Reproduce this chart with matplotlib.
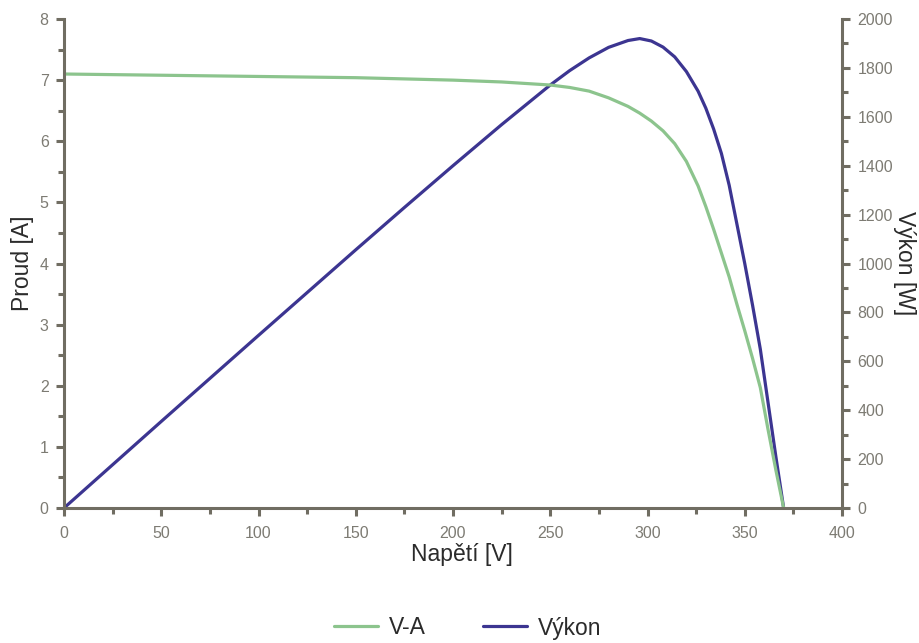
import matplotlib
matplotlib.use("Agg")
import matplotlib.pyplot as plt
from matplotlib.ticker import MultipleLocator

plt.rcParams['font.family'] = ['Liberation Sans', 'DejaVu Sans']

voltage = [0, 25, 50, 75, 100, 125, 150, 175, 200, 225, 250, 260, 270, 280, 290,
           296, 302, 308, 314, 320, 326, 330, 334, 338, 342, 346, 350, 354, 358,
           362, 366, 370]
current = [7.10, 7.09, 7.08, 7.07, 7.06, 7.05, 7.04, 7.02, 7.00, 6.97, 6.92, 6.88,
           6.82, 6.71, 6.57, 6.46, 6.33, 6.17, 5.96, 5.67, 5.27, 4.93, 4.56, 4.17,
           3.78, 3.33, 2.90, 2.45, 1.97, 1.28, 0.62, 0.0]
power = [0, 177, 354, 530, 706, 881, 1056, 1229, 1400, 1568, 1730, 1789, 1841,
         1884, 1912, 1920, 1910, 1885, 1845, 1785, 1705, 1635, 1550, 1450, 1320,
         1160, 1000, 830, 650, 430, 210, 0]

series_labels = ['V-A', 'Výkon']
x_label = 'Napětí [V]'
y_label = 'Proud [A]'
y2_label = 'Výkon [W]'

GREEN = '#8cc48d'
BLUE = '#3c3591'
SPINE = '#706d62'
TICKTXT = '#7d7b73'
LABEL = '#2b2b2b'

fig = plt.figure(figsize=(9.19, 6.43), dpi=100)
ax = fig.add_axes([64/919, 1-508/643, (842-64)/919, (508-19)/643])
ax2 = ax.twinx()

l1, = ax.plot(voltage, current, color=GREEN, lw=2.3, solid_capstyle='round',
              solid_joinstyle='round')
l2, = ax2.plot(voltage, power, color=BLUE, lw=2.3, solid_capstyle='round',
               solid_joinstyle='round')

ax.set_xlim(0, 400)
ax.set_ylim(0, 8)
ax2.set_ylim(0, 2000)

ax.xaxis.set_major_locator(MultipleLocator(50))
ax.xaxis.set_minor_locator(MultipleLocator(25))
ax.yaxis.set_major_locator(MultipleLocator(1))
ax.yaxis.set_minor_locator(MultipleLocator(0.5))
ax2.yaxis.set_major_locator(MultipleLocator(200))
ax2.yaxis.set_minor_locator(MultipleLocator(100))

for a in (ax, ax2):
    a.spines['top'].set_visible(False)
    for s in ('left', 'right', 'bottom'):
        a.spines[s].set_color(SPINE)
        a.spines[s].set_linewidth(2.2)
    a.tick_params(which='major', direction='out', length=6, width=2.2,
                  color=SPINE, labelcolor=TICKTXT, labelsize=11.5, pad=5)
    a.tick_params(which='minor', direction='out', length=4, width=2.2, color=SPINE)
ax.tick_params(axis='x', which='major', pad=7)
ax.spines['right'].set_visible(False)
ax2.spines['left'].set_visible(False)
ax2.spines['bottom'].set_visible(False)

ax.set_xlabel(x_label, fontsize=16.5, color=LABEL, labelpad=0)
ax.xaxis.set_label_coords((462 - 64) / 778, -(555 - 508) / 489)
ax.xaxis.label.set_va('center')
ax.set_ylabel(y_label, fontsize=16.5, color=LABEL)
ax.yaxis.set_label_coords((22 - 64) / 778, 0.5)
ax.yaxis.label.set_va('center')
ax2.set_ylabel(y2_label, fontsize=16.5, color=LABEL, rotation=-90)
ax2.yaxis.set_label_coords((905 - 64) / 778, 0.5)
ax2.yaxis.label.set_va('center')
ax2.yaxis.label.set_ha('center')

ax.set_zorder(ax2.get_zorder() + 1)
ax.patch.set_visible(False)

fig.legend([l1, l2], series_labels, loc='center', bbox_to_anchor=(468/919, 1-628/643),
           ncol=2, frameon=False, fontsize=16.5, handlelength=1.9, handletextpad=0.5,
           columnspacing=2.5, labelcolor=LABEL)

fig.savefig('out.png', dpi=100)
